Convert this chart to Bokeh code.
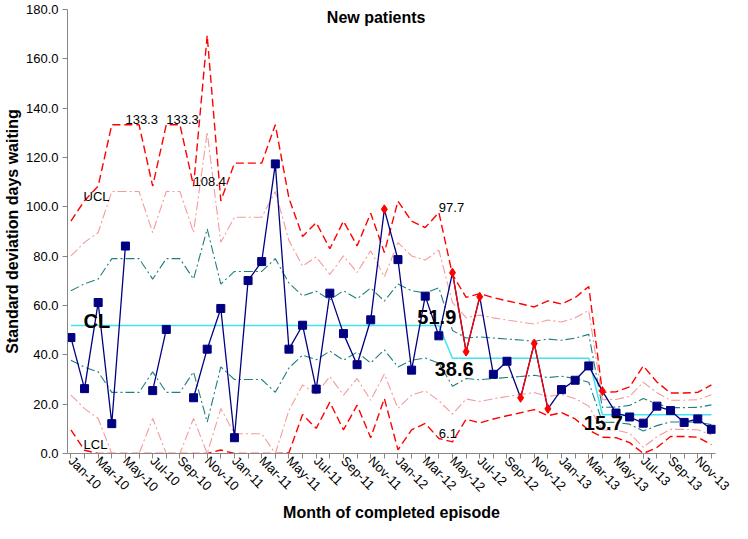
import math
from bokeh.plotting import figure
from bokeh.models import Range1d, FixedTicker, NumeralTickFormatter, Label, ColumnDataSource
from bokeh.embed import file_html
from bokeh.resources import INLINE

nan = float("nan")

months = ["Jan-10", "Feb-10", "Mar-10", "Apr-10", "May-10", "Jun-10", "Jul-10", "Aug-10",
          "Sep-10", "Oct-10", "Nov-10", "Dec-10", "Jan-11", "Feb-11", "Mar-11", "Apr-11",
          "May-11", "Jun-11", "Jul-11", "Aug-11", "Sep-11", "Oct-11", "Nov-11", "Dec-11",
          "Jan-12", "Feb-12", "Mar-12", "Apr-12", "May-12", "Jun-12", "Jul-12", "Aug-12",
          "Sep-12", "Oct-12", "Nov-12", "Dec-12", "Jan-13", "Feb-13", "Mar-13", "Apr-13",
          "May-13", "Jun-13", "Jul-13", "Aug-13", "Sep-13", "Oct-13", "Nov-13", "Dec-13"]

sd = [47.0, 26.3, 61.2, 12.1, 84.1, nan, 25.5, 50.3, nan, 22.6, 42.3, 58.8,
      6.4, 70.1, 77.8, 117.4, 42.3, 52.0, 26.1, 65.0, 48.6, 36.0, 54.2, 99.0,
      78.6, 33.8, 63.8, 47.7, 73.3, 41.3, 63.5, 32.1, 37.4, 22.6, 44.6, 18.1,
      25.9, 29.7, 35.5, 25.3, 16.4, 14.8, 12.3, 19.2, 17.4, 12.6, 14.0, 9.8]

flagged = [0, 0, 0, 0, 0, 0, 0, 0, 0, 0, 0, 0,
           0, 0, 0, 0, 0, 0, 0, 0, 0, 0, 0, 1,
           0, 0, 0, 0, 1, 1, 1, 0, 0, 1, 1, 1,
           0, 0, 0, 1, 0, 0, 0, 0, 0, 0, 0, 0]

cl = [51.9, 51.9, 51.9, 51.9, 51.9, 51.9, 51.9, 51.9, 51.9, 51.9, 51.9, 51.9,
      51.9, 51.9, 51.9, 51.9, 51.9, 51.9, 51.9, 51.9, 51.9, 51.9, 51.9, 51.9,
      51.9, 51.9, 51.9, 51.9, 38.6, 38.6, 38.6, 38.6, 38.6, 38.6, 38.6, 38.6,
      38.6, 38.6, 38.6, 15.7, 15.7, 15.7, 15.7, 15.7, 15.7, 15.7, 15.7, 15.7]

ucl = [94.2, 102.5, 108.4, 133.3, 133.3, 133.3, 108.4, 133.3, 133.3, 108.4, 169.5, 102.4,
       117.7, 117.7, 117.7, 133.3, 103.5, 88.0, 93.6, 83.0, 94.2, 84.2, 97.4, 81.5,
       102.3, 94.2, 91.6, 97.7, 72.5, 63.3, 64.8, 63.2, 61.9, 60.7, 59.4, 61.9,
       60.6, 63.2, 67.7, 24.8, 25.0, 27.0, 35.5, 29.0, 24.5, 24.5, 24.8, 27.8]

up2 = [80.1, 85.6, 89.6, 106.2, 106.2, 106.2, 89.6, 106.2, 106.2, 89.6, 130.3, 85.6,
       95.8, 95.8, 95.8, 106.2, 86.3, 76.0, 79.7, 72.6, 80.1, 73.4, 82.2, 71.6,
       85.5, 80.1, 78.4, 82.4, 61.2, 55.1, 56.1, 55.0, 54.1, 53.3, 52.5, 54.1,
       53.3, 55.0, 58.0, 21.8, 21.9, 23.2, 28.9, 24.6, 21.6, 21.6, 21.8, 23.8]

up1 = [66.0, 68.8, 70.7, 79.0, 79.0, 79.0, 70.7, 79.0, 79.0, 70.7, 91.1, 68.7,
       73.8, 73.8, 73.8, 79.0, 69.1, 63.9, 65.8, 62.3, 66.0, 62.7, 67.1, 61.8,
       68.7, 66.0, 65.1, 67.2, 49.9, 46.8, 47.3, 46.8, 46.4, 46.0, 45.5, 46.4,
       45.9, 46.8, 48.3, 18.7, 18.8, 19.5, 22.3, 20.1, 18.6, 18.6, 18.7, 19.7]

lo1 = [37.8, 35.0, 33.1, 24.8, 24.8, 24.8, 33.1, 24.8, 24.8, 33.1, 12.7, 35.1,
       30.0, 30.0, 30.0, 24.8, 34.7, 39.9, 38.0, 41.5, 37.8, 41.1, 36.7, 42.0,
       35.1, 37.8, 38.7, 36.6, 27.3, 30.4, 29.9, 30.4, 30.8, 31.2, 31.7, 30.8,
       31.3, 30.4, 28.9, 12.7, 12.6, 11.9, 9.1, 11.3, 12.8, 12.8, 12.7, 11.7]

lo2 = [23.7, 18.2, 14.2, 0.0, 0.0, 0.0, 14.2, 0.0, 0.0, 14.2, 0.0, 18.2,
       8.0, 8.0, 8.0, 0.0, 17.5, 27.8, 24.1, 31.2, 23.7, 30.4, 21.6, 32.2,
       18.3, 23.7, 25.4, 21.4, 16.0, 22.1, 21.1, 22.2, 23.1, 23.9, 24.7, 23.1,
       24.0, 22.2, 19.2, 9.6, 9.5, 8.2, 2.5, 6.8, 9.8, 9.8, 9.6, 7.6]

lcl = [9.6, 1.3, 0.0, 0.0, 0.0, 0.0, 0.0, 0.0, 0.0, 0.0, 0.0, 1.4,
       0.0, 0.0, 0.0, 0.0, 0.3, 15.8, 10.2, 20.8, 9.6, 19.6, 6.4, 22.3,
       1.5, 9.6, 12.2, 6.1, 4.7, 13.9, 12.4, 14.0, 15.3, 16.5, 17.8, 15.3,
       16.6, 14.0, 9.5, 6.6, 6.4, 4.4, 0.0, 2.4, 6.9, 6.9, 6.6, 3.6]

x = list(range(len(months)))
red_line = [v if f else nan for v, f in zip(sd, flagged)]

p = figure(width=732, height=523, x_range=Range1d(-0.25, 47.3), y_range=Range1d(0, 180),
           output_backend="svg", toolbar_location=None,
           min_border_left=65, min_border_right=17, min_border_top=9, min_border_bottom=54)
p.outline_line_color = None
p.grid.grid_line_color = None
p.background_fill_color = "white"
p.border_fill_color = "white"

FONT = "Liberation Sans"

# control limits
p.line(x, ucl, line_color="#FF0000", line_width=1.4, line_dash="8 4")
p.line(x, lcl, line_color="#FF0000", line_width=1.4, line_dash="8 4")
p.line(x, up2, line_color="#F49A9A", line_width=1.1, line_dash="9 3 2 3")
p.line(x, lo2, line_color="#F49A9A", line_width=1.1, line_dash="9 3 2 3")
p.line(x, up1, line_color="#1F7F7F", line_width=1.1, line_dash="9 3 2 3")
p.line(x, lo1, line_color="#1F7F7F", line_width=1.1, line_dash="9 3 2 3")
p.line(x, cl, line_color="#3FE3F2", line_width=1.5)

# data
p.line(x, sd, line_color="#000080", line_width=1.3)
p.line(x, red_line, line_color="#FF0000", line_width=1.3)
src_n = ColumnDataSource(dict(x=[i for i in x if not flagged[i]], y=[sd[i] for i in x if not flagged[i]]))
src_r = ColumnDataSource(dict(x=[i for i in x if flagged[i]], y=[sd[i] for i in x if flagged[i]]))
p.scatter("x", "y", source=src_n, marker="square", size=8, fill_color="#000080", line_color="#000080")
p.scatter("x", "y", source=src_r, marker="diamond", size=9, fill_color="#FF0000", line_color="#FF0000")

# axes
p.xaxis.ticker = FixedTicker(ticks=x)
p.xaxis.major_label_overrides = {i: (months[i] if i % 2 == 0 else "") for i in x}
p.xaxis.major_label_orientation = -math.pi / 4
p.yaxis.ticker = FixedTicker(ticks=[0, 20, 40, 60, 80, 100, 120, 140, 160, 180])
p.yaxis.formatter = NumeralTickFormatter(format="0.0")
for ax in (p.xaxis[0], p.yaxis[0]):
    ax.axis_line_color = "#868686"
    ax.major_tick_line_color = "#868686"
    ax.minor_tick_line_color = None
    ax.major_tick_in = 0
    ax.major_tick_out = 5
    ax.major_label_text_font = FONT
    ax.major_label_text_font_size = "13px"
    ax.major_label_text_color = "#000000"
    ax.axis_label_text_font = FONT
    ax.axis_label_text_font_size = "16px"
    ax.axis_label_text_font_style = "bold"
    ax.axis_label_text_color = "#000000"
p.yaxis.axis_label = "Standard deviation days waiting"
p.xaxis.axis_label = "Month of completed episode"
p.yaxis.major_label_standoff = 4
p.yaxis.axis_label_standoff = 2
p.xaxis.major_label_standoff = 0
p.xaxis.axis_label_standoff = 1

def lab(xv, yv, text, size="13px", bold=False, align="left", dy=0):
    p.add_layout(Label(x=xv, y=yv, text=text, text_font=FONT, text_font_size=size,
                       text_font_style="bold" if bold else "normal", text_color="#000000",
                       text_align=align, text_baseline="middle", y_offset=dy))

lab(22.4, 180, "New patients", size="16px", bold=True, align="center", dy=-8)
lab(0.93, 104.1, "UCL")
lab(0.93, 3.6, "LCL")
lab(0.93, 53.8, "CL", size="20px", bold=True)
lab(25.42, 55.2, f"{cl[27]:.1f}", size="20px", bold=True)
lab(26.69, 34.2, f"{cl[28]:.1f}", size="20px", bold=True)
lab(37.64, 12.3, f"{cl[39]:.1f}", size="20px", bold=True)
for i in (4, 7, 9, 27):
    lab(i, ucl[i], f"{ucl[i]:.1f}", dy=5)
lab(27, lcl[27], f"{lcl[27]:.1f}", dy=5)

open("out.html", "w").write(file_html(p, INLINE))
